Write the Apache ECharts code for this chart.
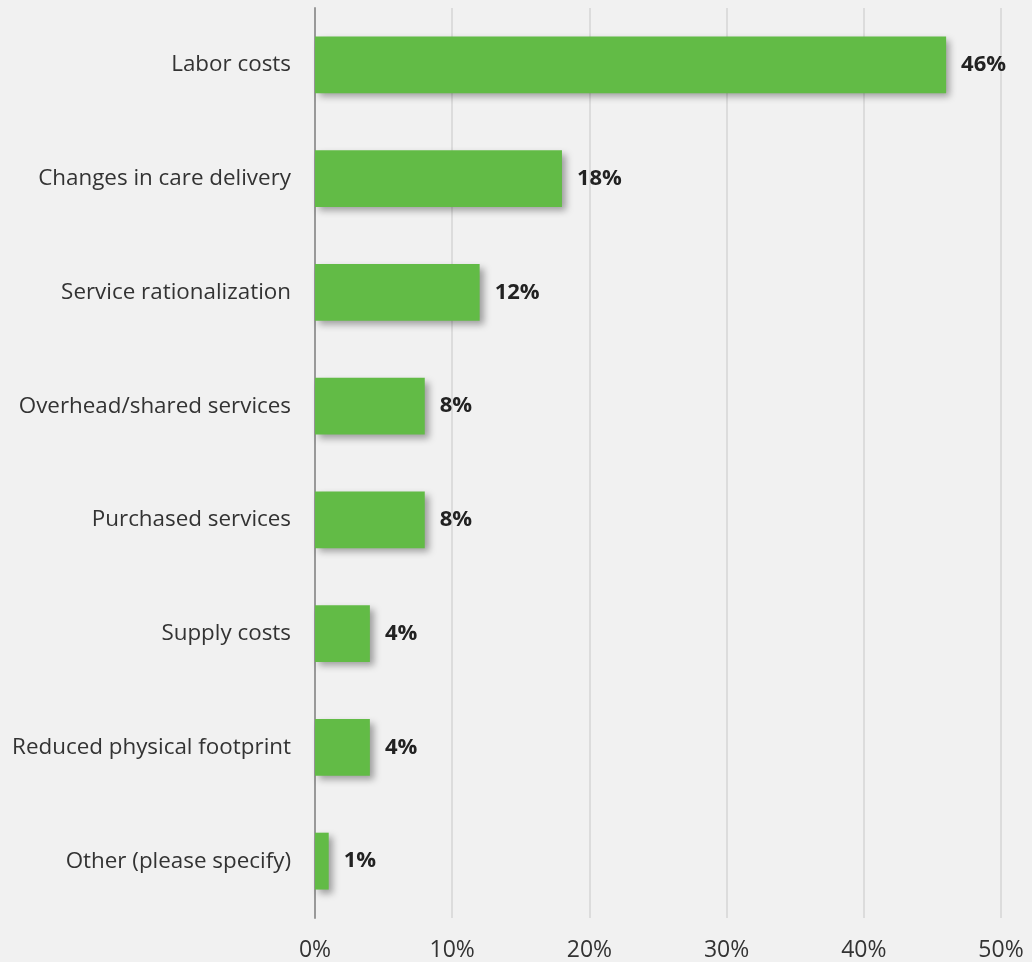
<!DOCTYPE html>
<html>
<head>
<meta charset="utf-8">
<style>
  html, body { margin: 0; padding: 0; background: #f1f1f1; }
  #chart { width: 1032px; height: 962px; }
</style>
<script src="https://cdn.jsdelivr.net/npm/echarts@6/dist/echarts.min.js"></script>
</head>
<body>
<div id="chart"></div>
<script>
// Share of respondents by cost-reduction area (percent)
const categories = [
  'Labor costs',
  'Changes in care delivery',
  'Service rationalization',
  'Overhead/shared services',
  'Purchased services',
  'Supply costs',
  'Reduced physical footprint',
  'Other (please specify)'
];
const shares = [46, 18, 12, 8, 8, 4, 4, 1];
const xTicks = [0, 10, 20, 30, 40, 50];

const chart = echarts.init(document.getElementById('chart'), null, { renderer: 'canvas' });

chart.setOption({
  backgroundColor: '#f1f1f1',
  animation: false,
  grid: { left: 315, right: 31, top: 8, bottom: 44, containLabel: false },
  xAxis: {
    type: 'value',
    min: xTicks[0],
    max: xTicks[xTicks.length - 1],
    interval: 10,
    axisLine: { show: false },
    axisTick: { show: false },
    splitLine: { show: true, lineStyle: { color: '#dcdcdc', width: 2 } },
    axisLabel: {
      margin: 21,
      color: '#333333',
      fontFamily: 'Open Sans',
      fontSize: 23,
      formatter: v => v + '%'
    }
  },
  yAxis: {
    type: 'category',
    data: categories,
    inverse: true,
    axisLine: { show: true, lineStyle: { color: '#999999', width: 2 } },
    axisTick: { show: false },
    splitLine: { show: false },
    axisLabel: {
      margin: 24,
      color: '#333333',
      fontFamily: 'Open Sans',
      fontSize: 22.4,
      padding: [0, 0, 4, 0]
    }
  },
  series: [{
    type: 'bar',
    data: shares,
    barCategoryGap: '50%',
    itemStyle: {
      color: '#62bb46',
      shadowColor: 'rgba(0,0,0,0.35)',
      shadowBlur: 7,
      shadowOffsetX: 4,
      shadowOffsetY: 4
    },
    label: {
      show: true,
      position: 'right',
      distance: 15,
      color: '#222222',
      fontFamily: 'Open Sans',
      fontWeight: 'bold',
      fontSize: 22,
      padding: [4, 0, 0, 0],
      formatter: p => p.value + '%'
    },
    z: 3
  }]
});
</script>
</body>
</html>
